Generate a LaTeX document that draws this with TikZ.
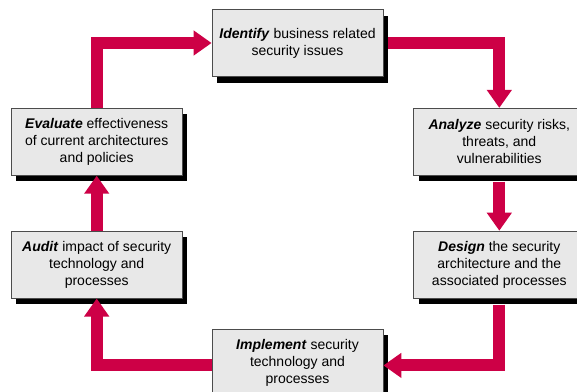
\documentclass[tikz,border=0pt]{standalone}
\usepackage{fontspec}
\setmainfont{Liberation Sans}
\usetikzlibrary{positioning,shadows,arrows.meta}
\definecolor{cyclered}{RGB}{205,0,70}
\definecolor{boxgray}{RGB}{232,232,232}

\begin{document}
\begin{tikzpicture}[x=1pt, y=-1pt,
stepnode/.style={rectangle, draw=black!70, fill=boxgray, line width=0.8pt, minimum width=171pt, minimum height=67pt, inner sep=0pt, align=center, font=\fontsize{14}{17}\selectfont, general shadow={fill=black, shadow xshift=5pt, shadow yshift=-6pt}},
flow/.style={draw=cyclered, line width=12pt, -{Triangle[length=18pt, width=24pt]}},
]
\useasboundingbox (0,0) rectangle (577,391);
%Nodes
\node[stepnode]      (Identify)   at (297.5,43)                          {\textbf{\textit{Identify}} business related\\security issues};
\node[stepnode]      (Analyze)    [below right=31pt and 30pt of Identify] {\textbf{\textit{Analyze}} security risks,\\threats, and\\vulnerabilities};
\node[stepnode]      (Evaluate)   [below left=31pt and 29pt of Identify]  {\textbf{\textit{Evaluate}} effectiveness\\of current architectures\\and policies};
\node[stepnode]      (Design)     [below=55pt of Analyze]                 {\textbf{\textit{Design}} the security\\architecture and the\\associated processes};
\node[stepnode]      (Audit)      [below=55pt of Evaluate]                {\textbf{\textit{Audit}} impact of security\\technology and\\processes};
\node[stepnode]      (Implement)  [below right=30pt and 29pt of Audit]    {\textbf{\textit{Implement}} security\\technology and\\processes};

%Lines
\draw[flow] (Evaluate.north) |- (Identify.west);
\draw[flow] ([xshift=5pt]Identify.east) -| (Analyze.north);
\draw[flow] ([yshift=-6pt]Analyze.south) -- (Design.north);
\draw[flow] ([yshift=-6pt]Design.south) |- ([yshift=-3pt]Implement.east);
\draw[flow] ([yshift=-3pt]Implement.west) -| (Audit.south);
\draw[flow] (Audit.north) -- (Evaluate.south);
\end{tikzpicture}
\end{document}
